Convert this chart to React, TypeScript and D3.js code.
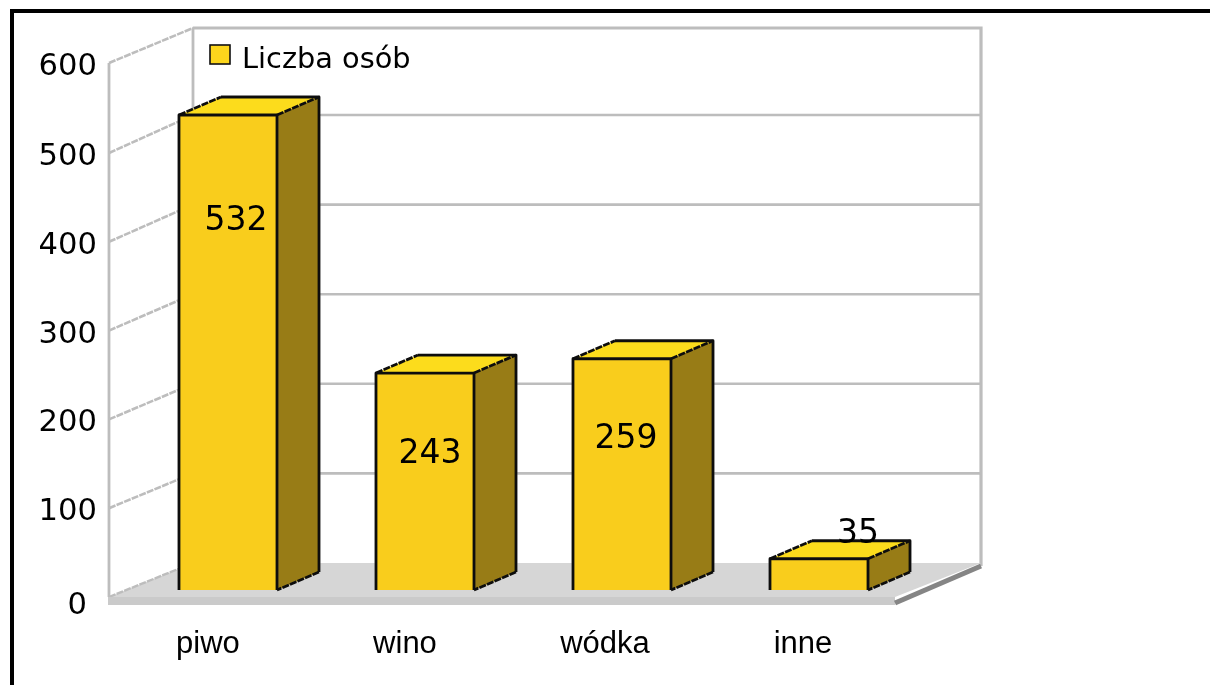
import React from "react";
import * as d3 from "d3";

const categories = ["piwo", "wino", "wódka", "inne"];
const values = [532, 243, 259, 35];
const ticks = [0, 100, 200, 300, 400, 500, 600];
const seriesName = "Liczba osób";

const W = 1210, H = 685;
const yBack = d3.scaleLinear().domain([0, 500, 600]).range([563, 115, 28]);
const yFront = d3.scaleLinear().domain([0, 500, 600]).range([597, 153, 63]);
const barH = d3.scaleLinear().domain([0, 532]).range([590, 115]);
const xStep = 197;
const barW = 98;
const barLeft = (i: number) => 179 + i * xStep;
const labelX = [208, 405, 605, 803];
const valueOffsetX = [57, 54, 53, 88];
const valueY = [230, 463, 448, 543];
const grid = "#bdbdbd";
const sans = "'DejaVu Sans', sans-serif";
const arial = "'Liberation Sans', sans-serif";
const dash = "7 1.2";

export default function App() {
  const dx = 42, dy = 18;
  return (
    <svg width={W} height={H} style={{ position: "absolute", left: 0, top: 0, display: "block" }} viewBox={`0 0 ${W} ${H}`}>
      <defs>
        <filter id="soft" filterUnits="userSpaceOnUse" x="0" y="0" width={W} height={H}><feGaussianBlur stdDeviation="0.5" /></filter>
      </defs>
      <rect width={W} height={H} fill="#fff" />
      <g filter="url(#soft)">
        {/* walls */}
        <path d={`M193 ${yBack(600)}H981V566`} fill="none" stroke={grid} strokeWidth={3.2} />
        <line x1={193} x2={193} y1={yBack(600)} y2={yBack(0)} stroke={grid} strokeWidth={2.8} />
        <line x1={109} x2={109} y1={yFront(600)} y2={yFront(0)} stroke={grid} strokeWidth={2.8} />
        <line x1={109} x2={193} y1={yFront(600)} y2={yBack(600)} stroke={grid} strokeWidth={2.6} strokeDasharray={dash} />
        {ticks.slice(1, 6).map(t => (
          <g key={t}>
            <line x1={193} x2={981} y1={yBack(t)} y2={yBack(t)} stroke={grid} strokeWidth={2.6} />
            <line x1={109} x2={193} y1={yFront(t)} y2={yBack(t)} stroke={grid} strokeWidth={2.6} strokeDasharray={dash} />
          </g>
        ))}
        {/* floor */}
        <path d="M109 597L193 563H981L895 597Z" fill="#d6d6d6" />
        <line x1={109} x2={193} y1={597} y2={563} stroke={grid} strokeWidth={2.4} strokeDasharray={dash} />
        <rect x={108} y={597} width={787} height={8} fill="#cacaca" />
        <path d="M895 603L981 566" stroke="#858585" strokeWidth={5} fill="none" />
        {/* bars */}
        {values.map((v, i) => {
          const l = barLeft(i), r = l + barW, t = barH(v), b = 590;
          return (
            <g key={categories[i]} stroke="#111" strokeWidth={2.8} strokeLinejoin="round">
              <path d={`M${l} ${t}L${l + dx} ${t - dy}H${r + dx}L${r} ${t}Z`} fill="#fcdc1c" stroke="none" />
              <path d={`M${r} ${t}L${r + dx} ${t - dy}V${b - dy}L${r} ${b}Z`} fill="#987c14" stroke="none" />
              <path d={`M${l} ${t}L${l + dx} ${t - dy}`} fill="none" strokeDasharray={dash} />
              <path d={`M${l + dx} ${t - dy}H${r + dx}V${b - dy}`} fill="none" />
              <path d={`M${r} ${t}L${r + dx} ${t - dy}M${r + dx} ${b - dy}L${r} ${b}`} fill="none" strokeDasharray={dash} />
              <path d={`M${l} ${b}V${t}H${r}V${b}`} fill="#f9cd1f" />
            </g>
          );
        })}
        {/* value labels */}
        {values.map((v, i) => (
          <text key={v} x={barLeft(i) + valueOffsetX[i]} y={valueY[i]} textAnchor="middle"
            fontFamily={sans} fontSize={33} fill="#000">{v}</text>
        ))}
        {/* y ticks */}
        {ticks.map(t => (
          <text key={t} x={t === 0 ? 87 : 97} y={yFront(t) + (t === 0 ? 17 : 12)} textAnchor="end"
            fontFamily={sans} fontSize={30.6} fill="#000">{t}</text>
        ))}
        {/* categories */}
        {categories.map((c, i) => (
          <text key={c} x={labelX[i]} y={653} textAnchor="middle" fontFamily={arial} fontSize={31} fill="#000">{c}</text>
        ))}
        {/* legend */}
        <rect x={210} y={45} width={20} height={19} fill="#fcd61c" stroke="#111" strokeWidth={1.6} />
        <text x={242} y={68} fontFamily={sans} fontSize={28.8} fill="#000">{seriesName}</text>
        {/* frame */}
        <path d={`M12 ${H}V11H${W}`} fill="none" stroke="#000" strokeWidth={4} />
      </g>
    </svg>
  );
}
